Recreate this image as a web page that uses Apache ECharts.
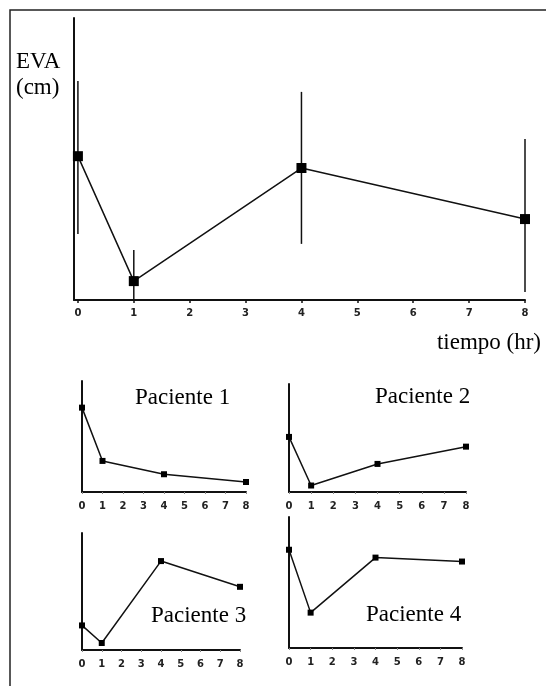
<!DOCTYPE html>
<html>
<head>
<meta charset="utf-8">
<title>EVA</title>
<script src="https://cdn.jsdelivr.net/npm/echarts@6/dist/echarts.min.js"></script>
<style>
  html, body { margin: 0; padding: 0; background: #fff; }
  #chart { width: 546px; height: 686px; }
</style>
</head>
<body>
<div id="chart"></div>
<script>
// horas de medicion
const hours = [0, 1, 4, 8]
const xTicks = [0, 1, 2, 3, 4, 5, 6, 7, 8]

// EVA media con barras de error
const evaMean = [5.1, 0.67, 4.68, 2.87]
const evaLow = [2.34, 0, 1.99, 0.28]
const evaHigh = [7.77, 1.77, 7.38, 5.71]

// pacientes individuales
const paciente1 = [7.6, 2.8, 1.6, 0.9]
const paciente2 = [5.1, 0.6, 2.6, 4.2]
const paciente3 = [2.1, 0.6, 7.6, 5.4]
const paciente4 = [7.5, 2.7, 6.9, 6.6]

const pacientes = [paciente1, paciente2, paciente3, paciente4]
const pacienteNames = ['Paciente 1', 'Paciente 2', 'Paciente 3', 'Paciente 4']

const ink = '#111'
const serif = '"Liberation Serif", "DejaVu Serif", serif'
const sans = '"DejaVu Sans", Verdana, sans-serif'

const zip = (xs, ys) => xs.map((x, i) => [x, ys[i]])

// grids: principal + 4 pequenos
const grids = [
  { left: 74, top: 18, width: 451, height: 282 },
  { left: 82, top: 381, width: 164, height: 111 },
  { left: 289, top: 384, width: 177, height: 108 },
  { left: 82, top: 533, width: 158, height: 117 },
  { left: 289, top: 517, width: 173, height: 131 }
].map(g => ({ ...g, containLabel: false, outerBoundsMode: 'none' }))

const xAxes = grids.map((g, i) => {
  const main = i === 0
  return {
    type: 'value',
    gridIndex: i,
    min: main ? -0.07 : 0,
    max: 8,
    interval: 1,
    splitLine: { show: false },
    axisLine: { onZero: false, lineStyle: { color: ink, width: 2 } },
    axisTick: main
      ? { customValues: xTicks, length: 3, lineStyle: { color: ink, width: 1.5 } }
      : { length: 2, lineStyle: { color: '#888', width: 1 } },
    axisLabel: {
      customValues: main ? xTicks : undefined,
      color: '#222',
      fontFamily: sans,
      fontWeight: 'bold',
      fontSize: 10,
      margin: main ? 8 : 9
    }
  }
})

const yAxes = grids.map((g, i) => ({
  type: 'value',
  gridIndex: i,
  min: 0,
  max: 10,
  splitLine: { show: false },
  axisTick: { show: false },
  axisLabel: { show: false },
  axisLine: { show: true, onZero: false, lineStyle: { color: ink, width: 2 } }
}))

const series = [
  {
    type: 'custom',
    xAxisIndex: 0,
    yAxisIndex: 0,
    encode: { x: 0, y: [1, 2] },
    data: hours.map((h, i) => [h, evaLow[i], evaHigh[i]]),
    renderItem: (params, api) => {
      const lo = api.coord([api.value(0), api.value(1)])
      const hi = api.coord([api.value(0), api.value(2)])
      return {
        type: 'line',
        shape: { x1: lo[0], y1: lo[1], x2: hi[0], y2: hi[1] },
        style: { stroke: ink, lineWidth: 1.5 }
      }
    },
    z: 1
  },
  {
    type: 'line',
    xAxisIndex: 0,
    yAxisIndex: 0,
    data: zip(hours, evaMean),
    symbol: 'rect',
    symbolSize: 10,
    itemStyle: { color: '#000' },
    lineStyle: { color: ink, width: 1.5 },
    z: 3
  }
]

pacientes.forEach((vals, i) => {
  series.push({
    type: 'line',
    name: pacienteNames[i],
    xAxisIndex: i + 1,
    yAxisIndex: i + 1,
    data: zip(hours, vals),
    symbol: 'rect',
    symbolSize: 6,
    itemStyle: { color: '#000' },
    lineStyle: { color: ink, width: 1.5 }
  })
})

const txt = (text, x, y, align) => ({
  type: 'text',
  x: x,
  y: y,
  style: {
    text: text,
    fill: '#000',
    font: '23px ' + serif,
    align: align || 'left',
    verticalAlign: 'middle'
  }
})

const chart = echarts.init(document.getElementById('chart'))
chart.setOption({
  animation: false,
  grid: grids,
  xAxis: xAxes,
  yAxis: yAxes,
  series: series,
  graphic: [
    {
      type: 'polyline',
      shape: { points: [[10, 686], [10, 10], [546, 10]] },
      style: { stroke: '#222', lineWidth: 1.5, fill: null }
    },
    txt('EVA', 16, 62),
    txt('(cm)', 16, 88),
    txt('tiempo (hr)', 541, 343, 'right'),
    txt(pacienteNames[0], 135, 398),
    txt(pacienteNames[1], 375, 397),
    txt(pacienteNames[2], 151, 616),
    txt(pacienteNames[3], 366, 615)
  ]
})
</script>
</body>
</html>
